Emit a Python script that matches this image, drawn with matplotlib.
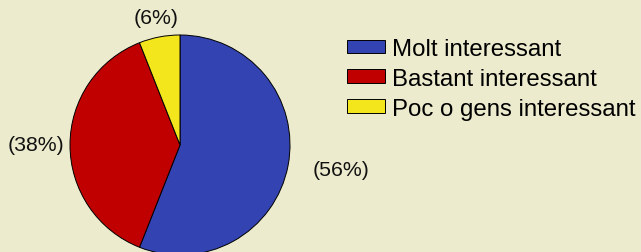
import matplotlib
matplotlib.use('Agg')
import matplotlib.pyplot as plt
import numpy as np

# data
categories = ['Molt interessant', 'Bastant interessant', 'Poc o gens interessant']
shares = [56, 38, 6]
colors = ['#3343B2', '#C00000', '#F4E61C']
# label placement: distance (in radii) and angle shift (deg)
label_dist = [1.48, 1.31, 1.18]
label_shift = [2.3, 0, 0]

W, H = 641, 253
fig = plt.figure(figsize=(W / 100.0, H / 100.0), dpi=100)
fig.patch.set_facecolor('#ECEBCD')
ax = fig.add_axes([0, 0, 1, 1])

cx, cy, r = 180, 253 - 146, 110
wedges, texts = ax.pie(shares, colors=colors, startangle=90, counterclock=False,
                       center=(cx, cy), radius=r, frame=True,
                       labels=['(%d%%)' % s for s in shares],
                       wedgeprops=dict(edgecolor='black', linewidth=0.7),
                       textprops=dict(fontsize=15.3, family='Liberation Sans', color='#111111'))
ax.set_xlim(0, W)
ax.set_ylim(0, H)
ax.set_aspect('equal')
ax.axis('off')

for w, t, d, s in zip(wedges, texts, label_dist, label_shift):
    ang = np.deg2rad((w.theta1 + w.theta2) / 2.0 + s)
    t.set_position((cx + d * r * np.cos(ang), cy + d * r * np.sin(ang)))
    t.set_ha('center')
    t.set_va('center')

ax.legend(wedges, categories, loc='upper left',
          bbox_to_anchor=(347.0 / W, 1 - 39.0 / H),
          frameon=False, borderpad=0, borderaxespad=0,
          prop=dict(family='Liberation Sans', size=17.3),
          handlelength=1.57, handleheight=0.51, handletextpad=0.3,
          labelspacing=0.33)

fig.savefig('out.png', dpi=100, facecolor=fig.get_facecolor())
